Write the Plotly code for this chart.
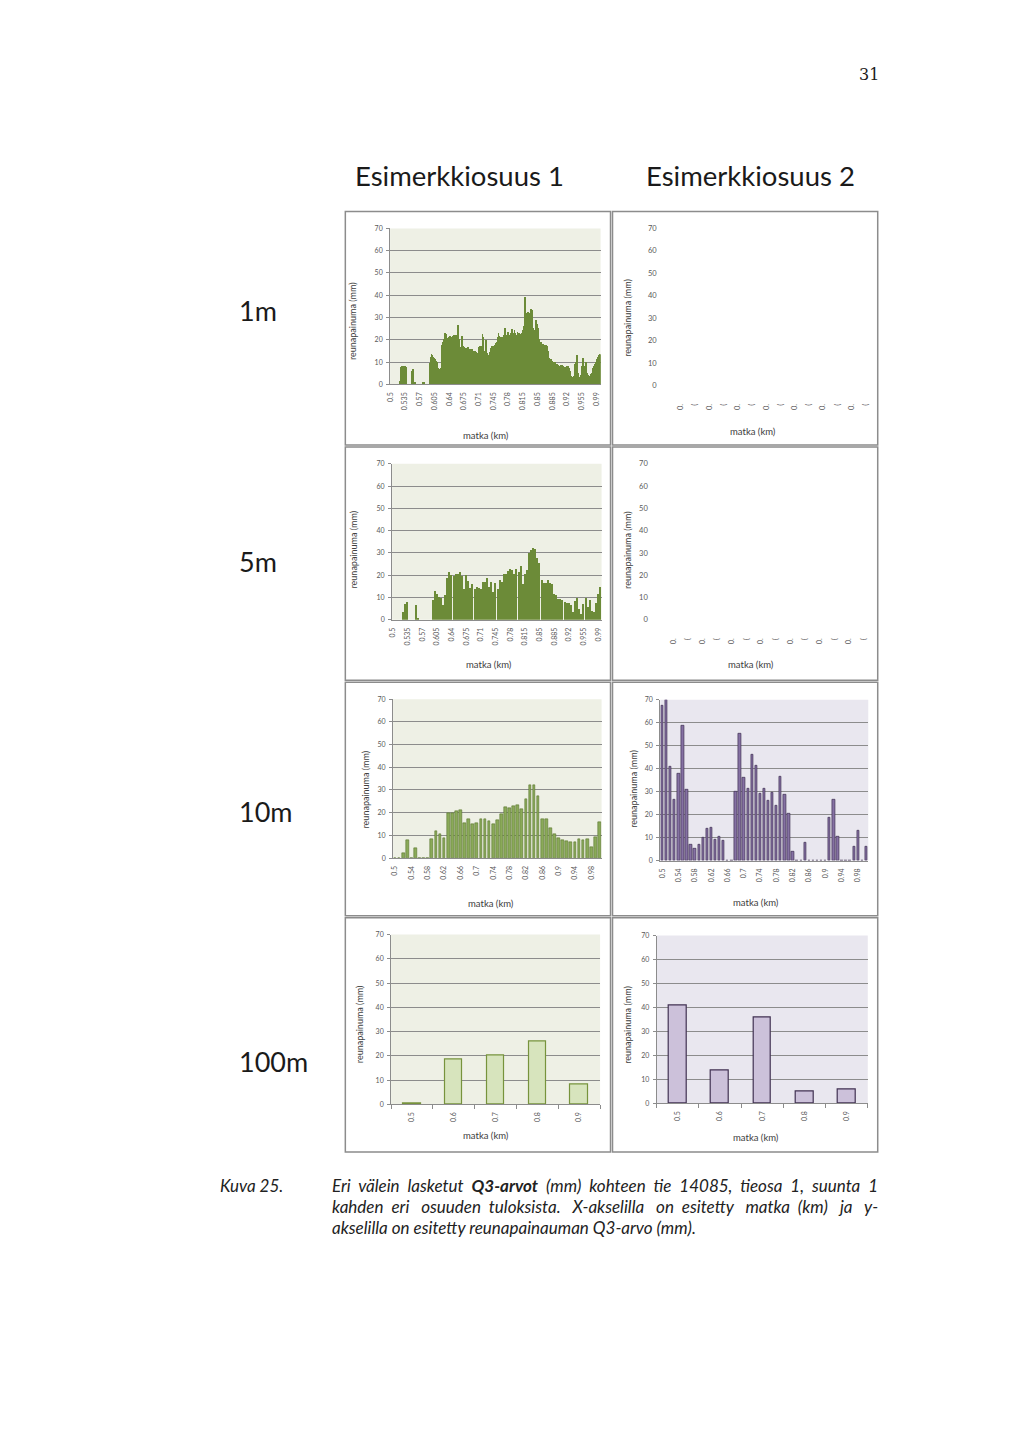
import plotly.graph_objects as go

W, H = 1024, 1448


def fx(x):
    return x / W


def fy(y):
    return 1 - y / H


# ---------------- DATA ----------------
cat_1m = [f"{round(0.5 + i * 0.001, 3):g}" for i in range(500)]
cat_5m = [f"{round(0.5 + i * 0.005, 3):g}" for i in range(100)]
cat_10m = [f"{round(0.5 + i * 0.01, 2):g}" for i in range(51)]
cat_100m = ["0.5", "0.6", "0.7", "0.8", "0.9"]

ticks_1m = ["0.5", "0.535", "0.57", "0.605", "0.64", "0.675", "0.71", "0.745",
            "0.78", "0.815", "0.85", "0.885", "0.92", "0.955", "0.99"]
ticks_5m = ticks_1m
ticks_10m = ["0.5", "0.54", "0.58", "0.62", "0.66", "0.7", "0.74", "0.78",
             "0.82", "0.86", "0.9", "0.94", "0.98"]
ticks_100m = cat_100m
ticks_empty = ["0.", "(", "0.", "(", "0.", "(", "0.", "(", "0.", "(", "0.", "(", "0.", "("]
y_ticks = [0, 10, 20, 30, 40, 50, 60, 70]

# Esimerkkiosuus 1, 1 m interval
q3_1m_s1 = [
    0, 0, 0, 0, 0, 0, 0, 0, 0, 0, 0, 0, 0, 0, 0, 0, 0, 0, 0, 0, 0, 0, 0, 1.5, 4,
    6, 7.5, 8, 7.8, 8, 8.2, 7.9, 8, 7.7, 8, 8.1, 7.8, 8, 7.5, 0, 0, 0, 0, 0, 0, 0, 0, 0, 0, 0,
    0, 0, 6, 6.5, 6.5, 6.3, 5.5, 0.5, 0.5, 0.5, 0.3, 0, 0, 0, 0, 0, 0, 0, 0, 0, 0, 0, 0, 0, 0,
    0, 0, 0, 0.5, 0.7, 0.5, 0, 0, 0, 0, 0, 0, 0, 0, 0, 0, 0, 0, 9, 9.5, 9, 9.5, 12, 13.5, 12.5,
    13, 12, 11.5, 12, 11, 11.5, 10.5, 11, 10, 10.5, 10, 9.5, 10, 7, 6.5, 7, 6.5, 6, 6.5, 7, 6, 6.5, 14, 17.5, 19,
    19, 20, 18.5, 19.5, 22, 23, 21, 20, 22.5, 21, 19.5, 20.5, 19, 21, 20, 20.5, 19, 21.5, 20, 21, 19.5, 21, 20.5, 21.5, 20,
    21, 22, 20.5, 21.5, 22, 20, 21.5, 22, 20.5, 21, 23, 26.5, 22, 20, 16, 14, 15, 16.5, 15, 17, 19.5, 21.5, 18.5, 17, 15.5,
    16, 15, 16.5, 15.5, 14.5, 16, 15, 16, 14, 15.5, 16.5, 15, 14.5, 15.5, 14, 15, 14.5, 15.5, 14, 15, 15.5, 14.5, 15, 14, 15,
    14.5, 13.5, 15, 14, 13, 14.5, 13.5, 12.5, 14, 13, 15, 16.5, 17, 16, 17, 16.5, 15, 14, 17, 22.5, 21, 14, 13, 15, 14,
    13.5, 15, 17, 19.5, 18, 14, 12, 11.5, 12.5, 11, 13, 14.5, 13, 15, 16, 15, 16.5, 17, 15.5, 14.5, 16, 15, 17, 16, 17.5,
    17, 18.5, 17.5, 19, 18, 20.5, 21, 23, 21.5, 18, 19, 20, 19.5, 21, 20, 19, 20.5, 21, 19.5, 20, 22, 21, 24, 25, 22,
    21, 20.5, 22, 21.5, 23, 23.5, 22, 20.5, 21, 20, 22, 23, 22, 24, 24.5, 23, 22, 21.5, 22.5, 23, 24, 22.5, 23, 21, 22,
    21.5, 20.5, 22, 23.5, 23, 22, 23, 22.5, 21, 22, 21.5, 22.5, 23, 22, 24, 23.5, 22, 23, 26, 33, 39, 36, 32.5, 32, 31.5,
    32, 31, 32.5, 31.5, 31, 32, 30.5, 31, 32, 33.5, 33, 32, 33, 30, 24, 22, 25, 23, 21, 24, 26, 28.5, 28, 26, 24,
    27, 25, 22, 20, 19.5, 19, 18.5, 19, 18, 18.5, 19, 18, 17.5, 18, 17, 17.5, 17, 16.5, 17.5, 17, 16.5, 17.5, 17, 16, 17,
    15, 12, 11.5, 11, 10.5, 11, 10.5, 10, 11, 10.5, 10, 10.5, 9.5, 10, 9.5, 9, 10, 9.5, 9, 8.5, 9, 8.5, 8, 9, 8.5,
    8, 7.5, 8, 7.5, 7, 8, 8.5, 7.5, 8, 8.5, 8, 7.5, 8, 7, 7.5, 7, 6.5, 7, 7.5, 7, 8, 7.5, 8, 7.5, 7,
    7, 6.5, 6, 5, 4, 3.5, 3, 2.5, 2.5, 3, 2.5, 2.5, 3.5, 8, 9, 10, 9, 10.5, 11, 13, 12.5, 5, 3, 2.5, 2.5,
    2.5, 3, 2.5, 4, 7, 8, 7.5, 9, 11.5, 10.5, 8, 7, 6, 5.5, 8, 10, 9.5, 7, 5, 4.5, 4, 3.5, 3, 3.5, 3,
    3.5, 4, 4.5, 5, 4.5, 5.5, 6, 7, 8, 7.5, 8.5, 9, 9.5, 10, 9.5, 10.5, 11, 12, 11.5, 12, 12.5, 13, 12.5, 13.5, 13,
]

# Esimerkkiosuus 1, 5 m interval
q3_5m_s1 = [
    0, 0, 0, 0, 0, 3.5, 7.2, 8, 0, 0, 0, 6.5, 1, 0, 0, 0, 0, 0, 0, 9,
    13, 11.5, 10.5, 10, 6.5, 11, 19, 21.5, 20, 19.5, 20.5, 20.5, 21.5, 19.5, 14, 20, 17.5, 14.5, 16, 14,
    15, 14.5, 14, 17, 17, 19, 15, 17, 12.5, 16.5, 14, 18, 17, 20.5, 20.5, 22, 23, 22.5, 20.5, 23,
    21.5, 24, 16, 20.5, 22.5, 30, 31.5, 32.5, 32, 28, 25.5, 18, 16.5, 16.5, 18, 16.5, 16, 11.5, 11, 9.5,
    9.5, 9, 8, 7.5, 7.5, 6.5, 3.5, 8.5, 10, 5, 2.5, 7, 10, 6, 9, 4, 3.5, 7.5, 11.5, 15,
]

# 10 m interval
q3_10m_s1 = [
    0, 0, 2.3, 7.9, 0, 4.2, 0, 0, 0, 8.2,
    11.8, 10.7, 8.8, 20, 19.6, 20.5, 21.3, 15.5, 17, 15,
    15.3, 17.2, 17, 16.2, 15, 16.8, 19.2, 22.3, 21.8, 22.7,
    23.5, 21.7, 25.8, 32, 32.3, 27.3, 17, 17, 13, 10.5,
    8.7, 7.8, 7.3, 6.8, 6.8, 8.5, 8.1, 8.4, 4.7, 9,
    16,
]
q3_10m_s2 = [
    67.5, 70, 41, 26.5, 38, 58.7, 31, 6.7, 5.2, 7,
    10, 13.7, 14.5, 9.3, 10.3, 8.5, 0, 0, 30, 55.2,
    36, 31.3, 46, 41.5, 29.2, 31.4, 25.9, 29.7, 23.7, 36.6,
    28.6, 20.2, 4, 0, 0, 7.6, 0, 0, 0, 0,
    0, 18.5, 26.7, 10.3, 0, 0, 0, 5.9, 12.8, 0,
    5.9,
]

# 100 m interval
q3_100m_s1 = [0.3, 18.6, 20, 25.7, 8]
q3_100m_s2 = [40.6, 13.5, 35.7, 5, 5.7]

# ---------------- STYLE ----------------
FONT = "Lato"
TICKC = "#595959"
GRIDC = "#8c8c8c"
BG1 = "#eef0e5"
BG2 = "#e9e7ef"

fig = go.Figure()
layout = {}
shapes = []
annotations = []


def axname(n):
    return "" if n == 1 else str(n)


def chart_axes(n, xl, xr, yt, yb, tickvals, cats, xstand=3, ticks_x=False):
    a = axname(n)
    layout["xaxis" + a] = dict(
        domain=[fx(xl), fx(xr)], anchor="y" + a, type="category",
        categoryorder="array", categoryarray=cats,
        range=[-0.5, len(cats) - 0.5],
        tickmode="array", tickvals=tickvals, ticktext=tickvals,
        tickangle=-90, tickfont=dict(family=FONT, size=7, color=TICKC),
        showline=True, linecolor=GRIDC, linewidth=1.2, showgrid=False,
        ticks="outside" if ticks_x else "", tickson="boundaries" if ticks_x else "labels",
        ticklen=4, tickcolor=GRIDC, ticklabelstandoff=xstand, fixedrange=True,
    )
    layout["yaxis" + a] = dict(
        domain=[fy(yb), fy(yt)], anchor="x" + a, range=[0, 70],
        tickmode="array", tickvals=y_ticks,
        tickfont=dict(family=FONT, size=7, color=TICKC),
        showline=True, linecolor=GRIDC, linewidth=1, showgrid=True,
        gridcolor=GRIDC, gridwidth=1, zeroline=False,
        ticks="outside", ticklen=3, tickcolor=GRIDC, ticklabelstandoff=2,
        fixedrange=True,
    )


def empty_axes(n, xl, xr, yt, yb, ystand, xstand):
    a = axname(n)
    layout["xaxis" + a] = dict(
        domain=[fx(xl), fx(xr)], anchor="y" + a, range=[0, 14],
        tickmode="array", tickvals=[i + 0.5 for i in range(14)], ticktext=ticks_empty,
        tickangle=-90, tickfont=dict(family=FONT, size=7.5, color=TICKC),
        showline=False, showgrid=False, zeroline=False, ticks="",
        ticklabelstandoff=xstand, fixedrange=True,
    )
    layout["yaxis" + a] = dict(
        domain=[fy(yb), fy(yt)], anchor="x" + a, range=[0, 70],
        tickmode="array", tickvals=y_ticks,
        tickfont=dict(family=FONT, size=7.5, color=TICKC),
        showline=False, showgrid=False, zeroline=False, ticks="",
        ticklabelstandoff=ystand, fixedrange=True,
    )


def bg(xl, xr, yt, yb, color):
    shapes.append(dict(type="rect", xref="paper", yref="paper", layer="below",
                       x0=fx(xl), x1=fx(xr), y0=fy(yb), y1=fy(yt),
                       fillcolor=color, line=dict(width=0)))


def ann(x, y, text, size, color="#404040", angle=0, xanchor="center", family=FONT):
    annotations.append(dict(x=fx(x), y=fy(y), xref="paper", yref="paper", text=text,
                            showarrow=False, textangle=angle, xanchor=xanchor,
                            yanchor="middle", font=dict(family=family, size=size, color=color)))


def axis_titles(xt, yt):
    ann(xt[0], xt[1], "matka (km)", 9.5)
    ann(yt[0], yt[1], "reunapainuma (mm)", 9, angle=-90)


# Panel A: 1m, osuus 1
chart_axes(1, 387, 598.5, 225, 382, ticks_1m, cat_1m, xstand=4)
bg(387, 598.5, 225, 382, BG1)
fig.add_trace(go.Bar(x=cat_1m, y=q3_1m_s1, width=1.0, marker=dict(color="#6c8b38", line=dict(width=0)),
                     xaxis="x", yaxis="y", showlegend=False))
axis_titles((483.5, 433), (350, 318))

# Panel B: 5m, osuus 1
chart_axes(2, 389, 599.5, 462, 619, ticks_5m, cat_5m, xstand=4)
bg(389, 599.5, 462, 619, BG1)
fig.add_trace(go.Bar(x=cat_5m, y=q3_5m_s1, width=0.7, marker=dict(color="#6c8b38", line=dict(width=0)),
                     xaxis="x2", yaxis="y2", showlegend=False))
axis_titles((486.7, 663.7), (350, 548))

# Panel C: 10m, osuus 1
chart_axes(3, 390, 599.5, 699, 859, ticks_10m, cat_10m, xstand=4)
bg(390, 599.5, 699, 859, BG1)
fig.add_trace(go.Bar(x=cat_10m, y=q3_10m_s1, width=0.66,
                     marker=dict(color="#8aaa58", line=dict(width=0.6, color="#5b7630")),
                     xaxis="x3", yaxis="y3", showlegend=False))
axis_titles((488.3, 905), (362.7, 790))

# Panel D: 10m, osuus 2
chart_axes(4, 658.5, 867.5, 699.5, 861.5, ticks_10m, cat_10m, xstand=4)
bg(658.5, 867.5, 699.5, 861.5, BG2)
fig.add_trace(go.Bar(x=cat_10m, y=q3_10m_s2, width=0.58,
                     marker=dict(color="#8571a3", line=dict(width=0.7, color="#3f3151")),
                     xaxis="x4", yaxis="y4", showlegend=False))
axis_titles((754.7, 903.3), (631.3, 789))

# Panel E: 100m, osuus 1
chart_axes(5, 388, 598, 936, 1107, ticks_100m, cat_100m, xstand=4, ticks_x=True)
bg(388, 598, 936, 1107, BG1)
fig.add_trace(go.Bar(x=cat_100m, y=q3_100m_s1, width=0.42,
                     marker=dict(color="#d7e4bd", line=dict(width=1.2, color="#77933c")),
                     xaxis="x5", yaxis="y5", showlegend=False))
axis_titles((483, 1138), (357, 1026))

# Panel F: 100m, osuus 2
chart_axes(6, 655, 867, 937, 1106, ticks_100m, cat_100m, xstand=4, ticks_x=True)
bg(655, 867, 937, 1106, BG2)
fig.add_trace(go.Bar(x=cat_100m, y=q3_100m_s2, width=0.42,
                     marker=dict(color="#ccc1da", line=dict(width=1.2, color="#403152")),
                     xaxis="x6", yaxis="y6", showlegend=False))
axis_titles((755, 1140), (626, 1027))

# Panel G: 1m, osuus 2 (empty)
empty_axes(7, 672, 872, 225, 383, 16, 16)
fig.add_trace(go.Bar(x=[], y=[], xaxis="x7", yaxis="y7", showlegend=False))
axis_titles((751.3, 429), (626, 315))

# Panel H: 5m, osuus 2 (empty)
empty_axes(8, 664, 870, 462, 619, 17, 16)
fig.add_trace(go.Bar(x=[], y=[], xaxis="x8", yaxis="y8", showlegend=False))
axis_titles((749.7, 663.7), (625.3, 548.5))

# Panel frames
col_x = [(342, 608.5), (610.5, 877)]
row_y = [(208, 443), (445, 680), (682, 917), (919, 1155)]
for (x0, x1) in col_x:
    for (y0, y1) in row_y:
        shapes.append(dict(type="rect", xref="paper", yref="paper", layer="above",
                           x0=fx(x0), x1=fx(x1), y0=fy(y1), y1=fy(y0),
                           line=dict(color="#8c8c8c", width=1.5), fillcolor="rgba(0,0,0,0)"))

# Column titles, row labels, page number
ann(457, 172, "Esimerkkiosuus 1", 27.5, color="#1a1a1a")
ann(749, 172, "Esimerkkiosuus 2", 27.5, color="#1a1a1a")
for lbl, yy in [("1m", 308), ("5m", 560), ("10m", 812), ("100m", 1064)]:
    ann(233, yy, lbl, 27, color="#1a1a1a", xanchor="left")
ann(868, 70, "31", 16, color="#1a1a1a", family="DejaVu Serif")

# Caption
CAPC = "#222222"
NB = "\u00a0"


def justify(words, extra):
    # distribute extra non-breaking spaces over the word gaps
    gaps = len(words) - 1
    out = words[0]
    for i, w in enumerate(words[1:]):
        add = ((i + 1) * extra) // gaps - (i * extra) // gaps
        out += " " + NB * add + w
    return out


cap1 = ["Eri", "välein", "lasketut", "<b>Q3-arvot</b>", "(mm)", "kohteen", "tie", "14085,",
        "tieosa", "1,", "suunta", "1"]
cap2 = ["kahden", "eri", "osuuden", "tuloksista.", "X-akselilla", "on", "esitetty", "matka",
        "(km)", "ja", "y-"]
cap3 = "akselilla on esitetty reunapainauman Q3-arvo (mm)."

ann(214, 1189, "<i>Kuva 25.</i>", 17, color=CAPC, xanchor="left")
ann(327, 1189, "<i>" + justify(cap1, 11) + "</i>", 17, color=CAPC, xanchor="left")
ann(327, 1210, "<i>" + justify(cap2, 16) + "</i>", 17, color=CAPC, xanchor="left")
ann(327, 1231, "<i>" + cap3 + "</i>", 17, color=CAPC, xanchor="left")

fig.update_layout(
    width=W, height=H, margin=dict(l=0, r=0, t=0, b=0),
    paper_bgcolor="white", plot_bgcolor="rgba(0,0,0,0)",
    showlegend=False, bargap=0, shapes=shapes, annotations=annotations,
    **layout,
)

fig.write_html("out.html", config={"displayModeBar": False},
               post_script="document.body.style.margin='0px';")
